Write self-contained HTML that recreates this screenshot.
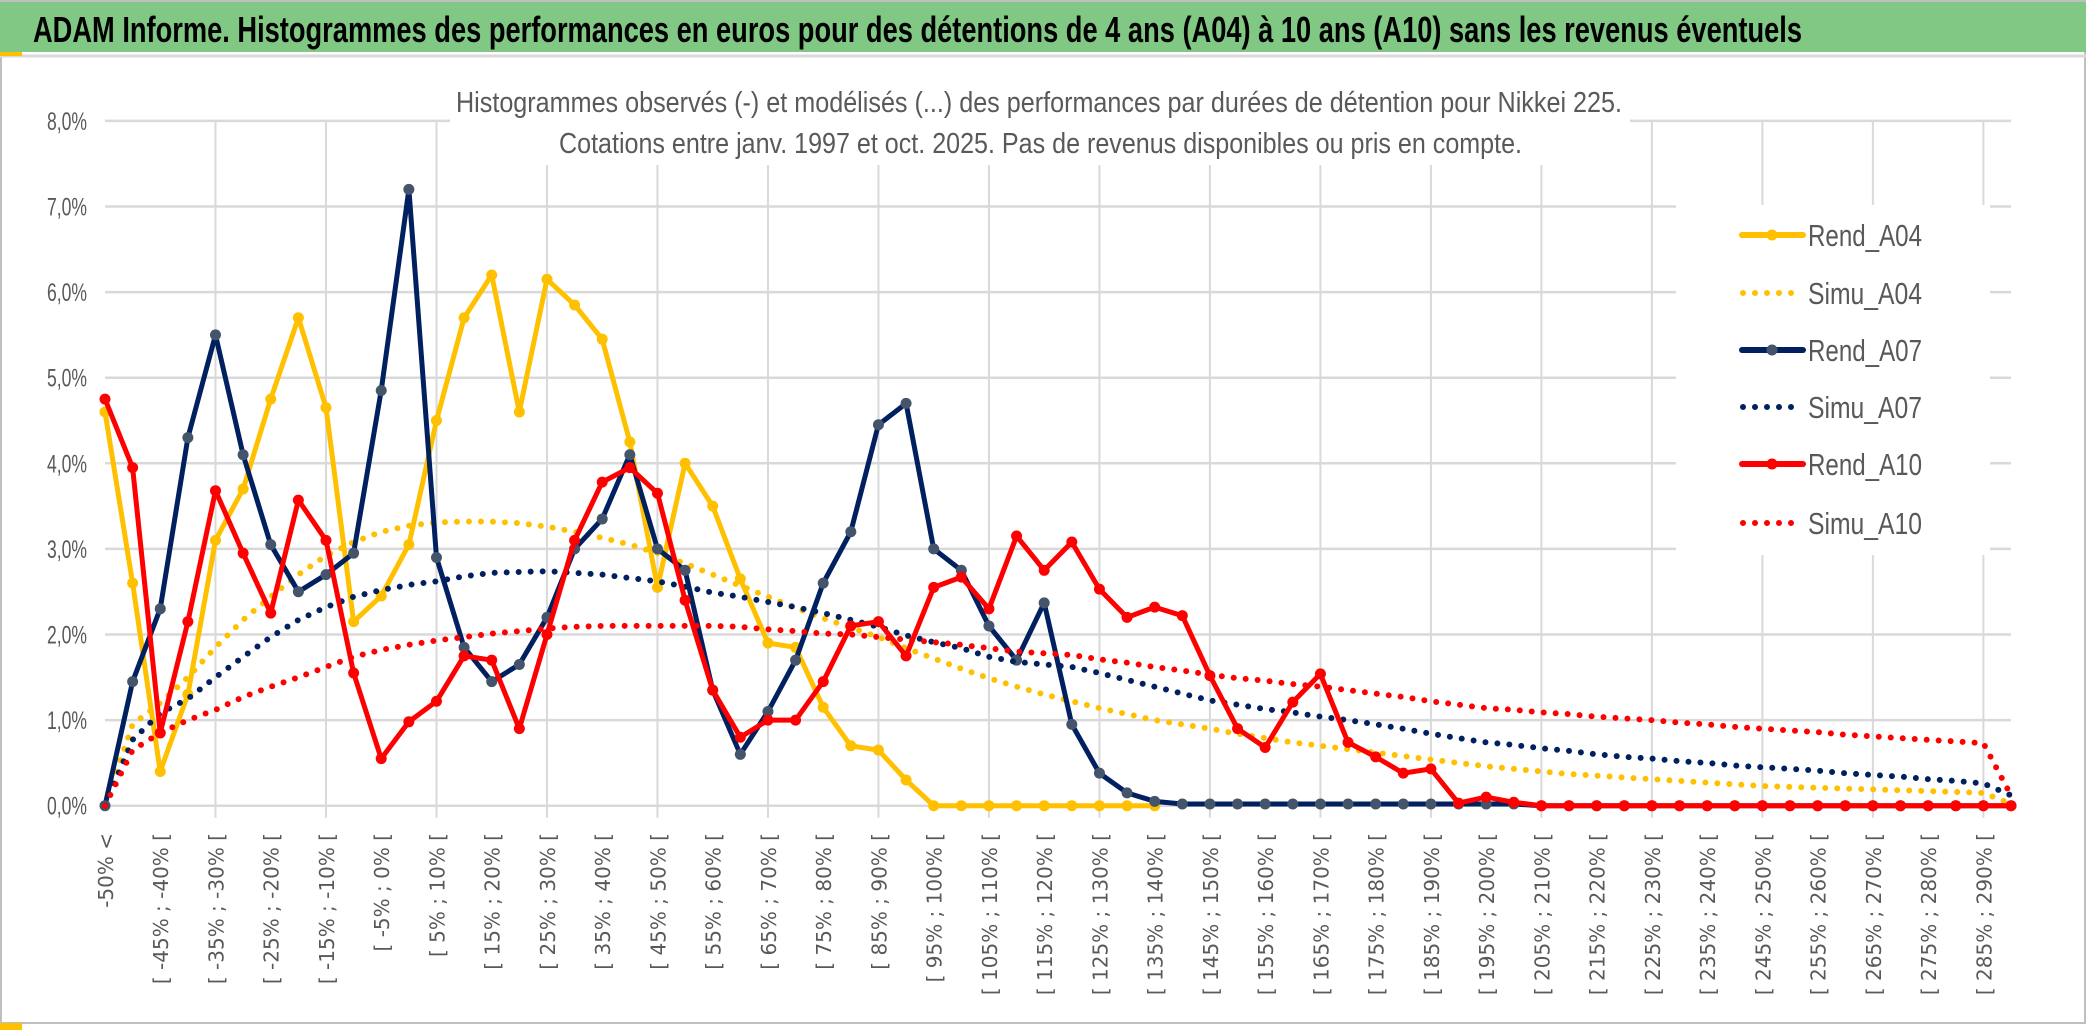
<!DOCTYPE html>
<html><head><meta charset="utf-8"><style>
html,body{margin:0;padding:0;background:#fff;}
svg{display:block;}
</style></head><body>
<svg id="chart" width="2086" height="1033" viewBox="0 0 2086 1033" xmlns="http://www.w3.org/2000/svg">
<rect x="0" y="0" width="2086" height="1033" fill="#fff"/>
<rect x="1" y="1" width="2084" height="1022" fill="none" stroke="#bfbfbf" stroke-width="2"/>
<rect x="0" y="2" width="2086" height="50" fill="#80c883"/>
<line x1="0" y1="56" x2="2086" y2="56" stroke="#d9d9d9" stroke-width="3"/>
<rect x="0" y="52" width="22" height="4" fill="#ffc000"/>
<rect x="0" y="1023" width="22" height="7" fill="#ffc000"/>
<text x="33" y="42" font-family="Liberation Sans, sans-serif" font-weight="bold" font-size="36" fill="#000" textLength="1769" lengthAdjust="spacingAndGlyphs">ADAM Informe. Histogrammes des performances en euros pour des détentions de 4 ans (A04) à 10 ans (A10) sans les revenus éventuels</text>
<g id="grid"></g>
<rect x="450" y="70" width="1180" height="95" fill="#fff"/>
<text x="456" y="112" font-family="Liberation Sans, sans-serif" font-size="29" fill="#595959" textLength="1166" lengthAdjust="spacingAndGlyphs">Histogrammes observés (-) et modélisés (...) des performances par durées de détention pour Nikkei 225.</text>
<text x="559" y="153" font-family="Liberation Sans, sans-serif" font-size="29" fill="#595959" textLength="963" lengthAdjust="spacingAndGlyphs">Cotations entre janv. 1997 et oct. 2025. Pas de revenus disponibles ou pris en compte.</text>
<g id="yaxis"></g>
<g id="xaxis"></g>
<g id="series"></g>
<g id="legend"></g>
</svg>
<script>
const yTicks = [0,1,2,3,4,5,6,7,8];
const yTickLabels = ["0,0%","1,0%","2,0%","3,0%","4,0%","5,0%","6,0%","7,0%","8,0%"];
const rendA04 = [4.6,2.6,0.4,1.3,3.1,3.7,4.75,5.7,4.65,2.15,2.45,3.05,4.5,5.7,6.2,4.6,6.15,5.85,5.45,4.25,2.55,4.0,3.5,2.65,1.9,1.85,1.15,0.7,0.65,0.3,0,0,0,0,0,0,0,0,0];
const simuA04 = [0,0.95,1.2,1.5,1.85,2.17,2.44,2.7,2.92,3.08,3.2,3.27,3.31,3.32,3.32,3.3,3.26,3.2,3.13,3.05,2.95,2.83,2.7,2.57,2.44,2.31,2.19,2.08,1.97,1.84,1.72,1.6,1.49,1.39,1.3,1.22,1.14,1.07,1.0,0.95,0.9,0.84,0.79,0.74,0.7,0.66,0.62,0.58,0.54,0.5,0.46,0.43,0.4,0.37,0.35,0.33,0.31,0.29,0.27,0.25,0.23,0.22,0.21,0.2,0.19,0.18,0.17,0.16,0.15,0.02];
const rendA07 = [0,1.45,2.3,4.3,5.5,4.1,3.05,2.5,2.7,2.95,4.85,7.2,2.9,1.85,1.45,1.65,2.2,3.0,3.35,4.1,3.0,2.75,1.35,0.6,1.1,1.7,2.6,3.2,4.45,4.7,3.0,2.75,2.1,1.7,2.37,0.95,0.38,0.15,0.05,0.02,0.02,0.02,0.02,0.02,0.02,0.02,0.02,0.02,0.02,0.02,0.02,0.02,0,0,0,0,0,0,0,0,0,0,0,0,0,0,0,0,0,0];
const simuA07 = [0,0.77,1.08,1.25,1.5,1.74,1.97,2.17,2.32,2.44,2.52,2.58,2.62,2.68,2.72,2.73,2.74,2.72,2.7,2.66,2.62,2.56,2.49,2.44,2.38,2.32,2.25,2.17,2.09,1.99,1.91,1.84,1.74,1.68,1.65,1.62,1.55,1.47,1.39,1.31,1.23,1.18,1.13,1.09,1.04,1.0,0.95,0.9,0.84,0.79,0.74,0.71,0.67,0.64,0.6,0.57,0.55,0.52,0.5,0.47,0.45,0.43,0.41,0.38,0.36,0.34,0.31,0.29,0.26,0.12];
const rendA10 = [4.75,3.95,0.85,2.15,3.68,2.95,2.25,3.57,3.1,1.55,0.55,0.98,1.22,1.75,1.7,0.9,2.0,3.1,3.78,3.95,3.65,2.4,1.35,0.8,1.0,1.0,1.45,2.1,2.15,1.75,2.55,2.67,2.3,3.15,2.75,3.08,2.53,2.2,2.32,2.22,1.52,0.9,0.68,1.21,1.54,0.74,0.57,0.38,0.43,0.03,0.1,0.04,0,0,0,0,0,0,0,0,0,0,0,0,0,0,0,0,0,0];
const simuA10 = [0,0.65,0.85,1.0,1.12,1.27,1.39,1.5,1.62,1.74,1.82,1.88,1.93,1.97,2.01,2.04,2.07,2.09,2.1,2.1,2.1,2.1,2.1,2.09,2.06,2.04,2.01,2.0,1.97,1.94,1.91,1.88,1.84,1.8,1.78,1.76,1.71,1.67,1.62,1.58,1.53,1.49,1.46,1.42,1.39,1.35,1.31,1.27,1.22,1.18,1.14,1.12,1.09,1.07,1.04,1.02,1.0,0.97,0.95,0.92,0.9,0.88,0.86,0.83,0.81,0.79,0.77,0.75,0.73,0.12];
const legendLabels = ["Rend_A04","Simu_A04","Rend_A07","Simu_A07","Rend_A10","Simu_A10"];

const NS = "http://www.w3.org/2000/svg";
const N = 70;
const categories = [];
categories.push("-50% <");
for (let i = 1; i < N; i++) {
  const a = -55 + 5 * i, b = a + 5;
  categories.push("[ " + a + "% ; " + b + "% [");
}
const X0 = 105, X1 = 2011, Y0 = 805.7, YPER = 85.6;
function xScale(i){ return X0 + (X1 - X0) * i / (N - 1); }
function yScale(v){ return Y0 - v * YPER; }
function mk(tag, attrs, parent){
  const e = document.createElementNS(NS, tag);
  for (const k in attrs) e.setAttribute(k, attrs[k]);
  parent.appendChild(e);
  return e;
}
const grid = document.getElementById('grid');
yTicks.forEach((t) => {
  const l = mk('line', {x1: X0, x2: X1, y1: yScale(t), y2: yScale(t), stroke: '#d9d9d9', 'stroke-width': 2.5}, grid);
  
  
});
for (let i = 4; i < N; i += 4) {
  const l = mk('line', {x1: xScale(i), x2: xScale(i), y1: yScale(8), y2: Y0 + 12, stroke: '#d9d9d9', 'stroke-width': 2}, grid);
  
  
}
const ya = document.getElementById('yaxis');
yTicks.forEach((t, k) => {
  const tx = mk('text', {x: 87, y: yScale(t) + 9, 'text-anchor': 'end', 'font-family': 'Liberation Sans, sans-serif', 'font-size': 25, fill: '#595959', textLength: 40, lengthAdjust: 'spacingAndGlyphs'}, ya);
  tx.textContent = yTickLabels[k];
  
  
});
const xa = document.getElementById('xaxis');
for (let i = 0; i < N; i += 2) {
  const x = xScale(i) + 8, y = 833;
  const tx = mk('text', {x: x, y: y, 'text-anchor': 'end', transform: 'rotate(-90 ' + x + ' ' + y + ')', 'font-family': 'DejaVu Sans, sans-serif', 'font-size': 20, fill: '#595959'}, xa);
  tx.textContent = categories[i];
  
  
}
const sg = document.getElementById('series');
function pts(arr){ return arr.map((v, i) => xScale(i).toFixed(1) + ',' + yScale(v).toFixed(1)).join(' '); }
function solid(arr, color, mcolor, name){
  const g = mk('g', {}, sg);
  
  
  mk('polyline', {points: pts(arr), fill: 'none', stroke: color, 'stroke-width': 5, 'stroke-linejoin': 'round'}, g);
  arr.forEach((v, i) => {
    const c = mk('circle', {cx: xScale(i), cy: yScale(v), r: 5.5, fill: mcolor}, g);
    
    
  });
}
function dotted(arr, color, name){
  const p = mk('polyline', {points: pts(arr), fill: 'none', stroke: color, 'stroke-width': 6, 'stroke-linecap': 'round', 'stroke-dasharray': '0 12'}, sg);
  
  
}
solid(rendA04, '#ffc000', '#ffc000', 'rend-a04-line');
dotted(simuA04, '#ffc000', 'simu-a04-line');
solid(rendA07, '#002060', '#44546a', 'rend-a07-line');
dotted(simuA07, '#002060', 'simu-a07-line');
solid(rendA10, '#ff0000', '#ff0000', 'rend-a10-line');
dotted(simuA10, '#ff0000', 'simu-a10-line');

const lg = document.getElementById('legend');
mk('rect', {x: 1676, y: 205, width: 314, height: 350, fill: '#fff'}, lg);
const lColors = ['#ffc000','#ffc000','#002060','#002060','#ff0000','#ff0000'];
const lMarker = ['#ffc000',null,'#44546a',null,'#ff0000',null];
const lY = [235,293,350,407,464,523];
legendLabels.forEach((lab, k) => {
  const g = mk('g', {}, lg);
  
  
  const y = lY[k];
  if (k % 2 === 0) {
    mk('line', {x1: 1742, x2: 1803, y1: y, y2: y, stroke: lColors[k], 'stroke-width': 6, 'stroke-linecap': 'round'}, g);
    mk('circle', {cx: 1772, cy: y, r: 5.5, fill: lMarker[k]}, g);
  } else {
    mk('line', {x1: 1743, x2: 1795, y1: y, y2: y, stroke: lColors[k], 'stroke-width': 6, 'stroke-linecap': 'round', 'stroke-dasharray': '0 12'}, g);
  }
  const t = mk('text', {x: 1808, y: y + 11, 'font-family': 'Liberation Sans, sans-serif', 'font-size': 31, fill: '#595959', textLength: 114, lengthAdjust: 'spacingAndGlyphs'}, g);
  t.textContent = lab;
});
</script>
</body></html>
